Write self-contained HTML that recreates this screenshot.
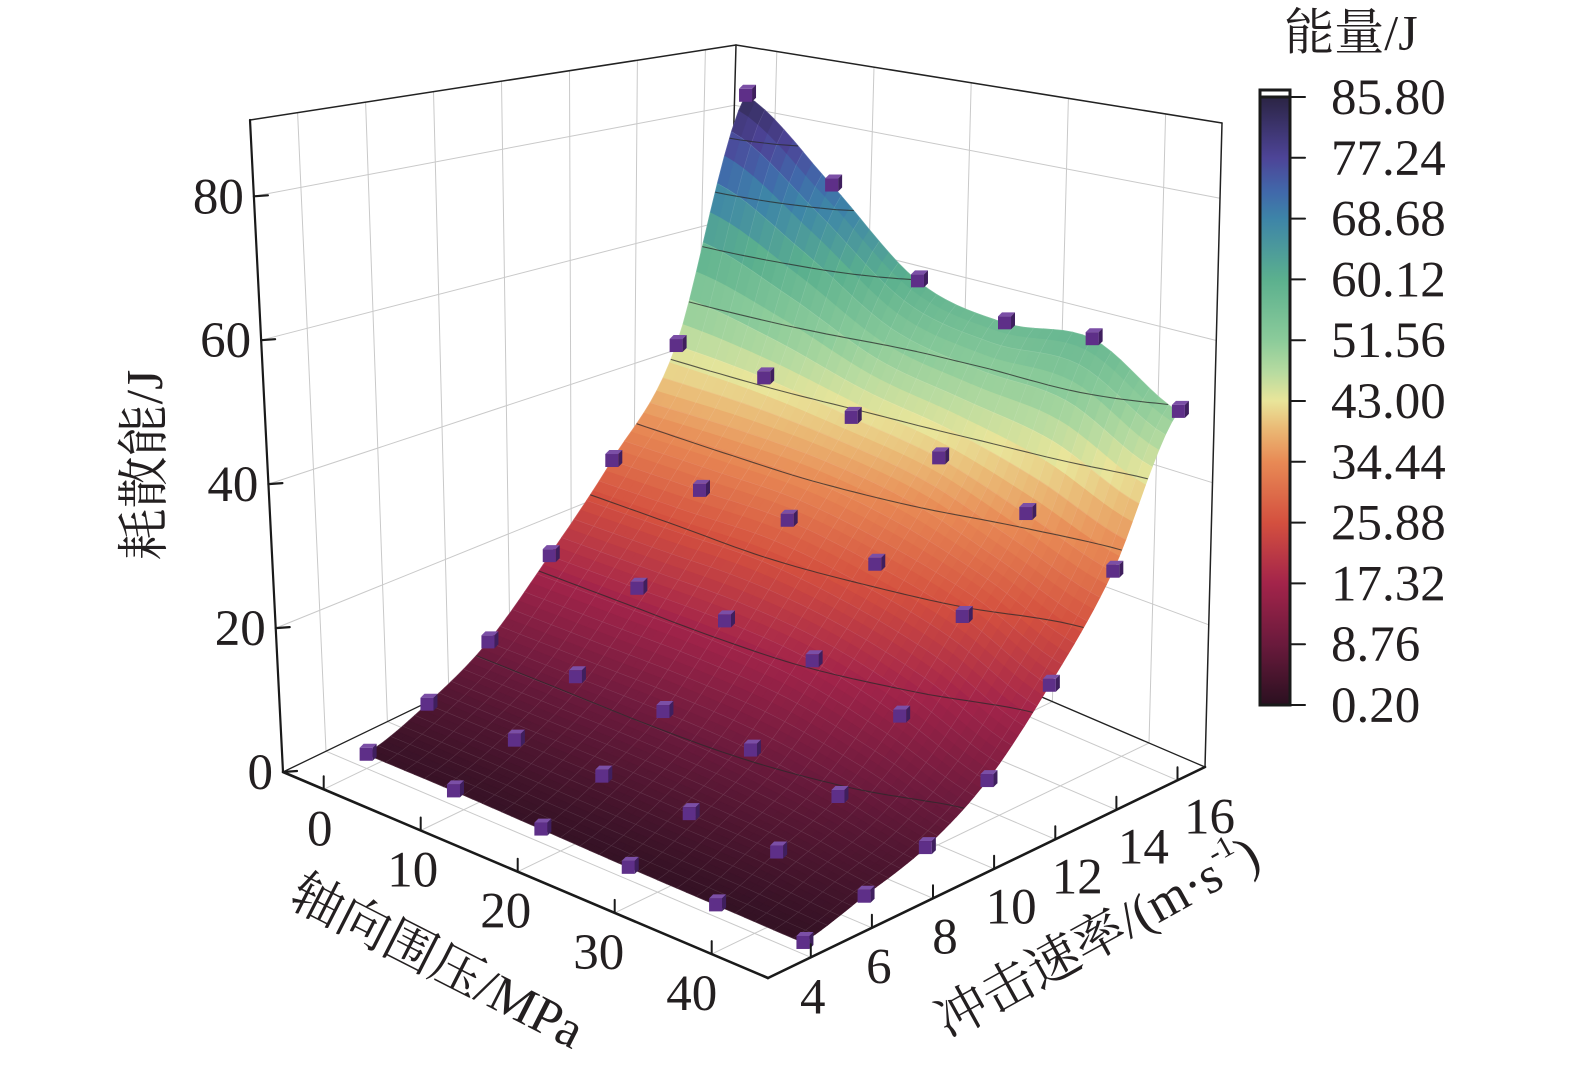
<!DOCTYPE html>
<html><head><meta charset="utf-8">
<style>
html,body{margin:0;padding:0;background:#fff;}
svg{display:block;}
text{font-family:"Liberation Serif","Noto Serif CJK SC","Noto Sans CJK SC",serif;fill:#231f20;}
</style></head>
<body>
<svg id="chart" xmlns="http://www.w3.org/2000/svg" width="1575" height="1083" viewBox="0 0 1575 1083">
<rect x="0" y="0" width="1575" height="1083" fill="#ffffff"/>
<g id="walls"></g>
<g id="boxBack"></g>
<g id="surface"></g>
<g id="contours"></g>
<g id="markers"></g>
<g id="axes"></g>
<g id="colorbar"></g>
<text x="150" y="465" font-size="52" text-anchor="middle" dominant-baseline="middle" transform="rotate(-90 150 465)">耗散能/J</text>
<text x="435" y="966" font-size="52" text-anchor="middle" dominant-baseline="middle" transform="rotate(27 435 966)">轴向围压/MPa</text>
<text x="1100" y="942" font-size="52" text-anchor="middle" dominant-baseline="middle" transform="rotate(-29 1100 942)">冲击速率/(m·s<tspan font-size="30" dy="-20">-1</tspan><tspan dy="20">)</tspan></text>
<text x="1351" y="38" font-size="50" text-anchor="middle" dominant-baseline="middle">能量/J</text>
</svg>
<script>
// ---- data ----
const axialValues = [0, 9, 18, 27, 36, 45];
const velocityValues = [4, 6, 8, 10, 12, 14, 16];
const energyA0 = [2.0, 5.0, 10.0, 19.0, 30.0, 45.0, 84.0];
const energyA9 = [2.0, 5.0, 10.0, 19.0, 30.0, 44.0, 72.0];
const energyA18 = [1.8, 5.0, 10.0, 19.0, 30.0, 42.0, 60.0];
const energyA27 = [1.6, 4.8, 9.5, 18.0, 28.0, 40.0, 57.0];
const energyA36 = [1.5, 4.5, 8.0, 15.0, 25.0, 36.0, 58.0];
const energyA45 = [1.4, 3.5, 6.0, 11.0, 20.0, 32.0, 51.0];
const energyRows = [energyA0, energyA9, energyA18, energyA27, energyA36, energyA45];
const zTicks = [0, 20, 40, 60, 80];
const axialTicks = [0, 10, 20, 30, 40];
const velocityTicks = [4, 6, 8, 10, 12, 14, 16];
const colorbarLabels = ["0.20","8.76","17.32","25.88","34.44","43.00","51.56","60.12","68.68","77.24","85.80"];
const contourLevels = [8.76, 17.32, 25.88, 34.44, 43.0, 51.56, 60.12, 68.68, 77.24];

// ---- colormap ----
const cmapVals = [0.2, 8.76, 17.32, 25.88, 34.44, 39, 43, 47, 51.56, 60.12, 68.68, 72.5, 77.24, 85.8];
const cmapCols = ["#2a1020","#6a1a3c","#a3244a","#d4503f","#e88a55","#eab874","#e9e59a","#b7dba0","#8bcb9a","#5bb08e","#3d84a8","#4168aa","#4d4497","#2b2444"];
function hex(c){return [parseInt(c.substr(1,2),16),parseInt(c.substr(3,2),16),parseInt(c.substr(5,2),16)];}
function cmap(z){
  if(z<=cmapVals[0]) return cmapCols[0];
  for(let i=1;i<cmapVals.length;i++){
    if(z<=cmapVals[i]){
      const f=(z-cmapVals[i-1])/(cmapVals[i]-cmapVals[i-1]);
      const a=hex(cmapCols[i-1]),b=hex(cmapCols[i]);
      return "rgb("+a.map((x,k)=>Math.round(x+(b[k]-x)*f)).join(",")+")";
    }
  }
  return cmapCols[cmapCols.length-1];
}

// ---- projection (trilinear box) ----
const amin=-4.2, amax=45.8, vmin=2.6, vmax=16.9, zmax=90.6;
const F00=[283,772],F10=[768,978],F01=[722,560],F11=[1205,767];
const T00=[250,120],T10=[760,215],T01=[736,45],T11=[1222,123];
function bil(P00,P10,P01,P11,s,r){
  return [P00[0]*(1-s)*(1-r)+P10[0]*s*(1-r)+P01[0]*(1-s)*r+P11[0]*s*r,
          P00[1]*(1-s)*(1-r)+P10[1]*s*(1-r)+P01[1]*(1-s)*r+P11[1]*s*r];
}
function proj(a,v,z){
  const s=(a-amin)/(amax-amin), r=(v-vmin)/(vmax-vmin), t=z/zmax;
  const f=bil(F00,F10,F01,F11,s,r), p=bil(T00,T10,T01,T11,s,r);
  return [f[0]*(1-t)+p[0]*t, f[1]*(1-t)+p[1]*t];
}
const NS="http://www.w3.org/2000/svg";
function mk(tag,attrs,parent){const e=document.createElementNS(NS,tag);for(const k in attrs)e.setAttribute(k,attrs[k]);parent.appendChild(e);return e;}
function line(p,q,stroke,w,parent,name){
  const e=mk("line",{x1:p[0].toFixed(1),y1:p[1].toFixed(1),x2:q[0].toFixed(1),y2:q[1].toFixed(1),stroke:stroke,"stroke-width":w,"stroke-linecap":"round"},parent);
  
  
  return e;
}

// ---- walls grid ----
const walls=document.getElementById("walls");
const gc="#c9c9c9";
velocityTicks.forEach(v=>{
  line(proj(amin,v,0),proj(amin,v,zmax),gc,1,walls,"left-wall-gridline");
  line(proj(amin,v,0),proj(amax,v,0),gc,1,walls,"floor-gridline");
});
axialTicks.forEach(a=>{
  line(proj(a,vmax,0),proj(a,vmax,zmax),gc,1,walls,"back-wall-gridline");
  line(proj(a,vmin,0),proj(a,vmax,0),gc,1,walls,"floor-gridline");
});
zTicks.forEach(z=>{
  line(proj(amin,vmin,z),proj(amin,vmax,z),gc,1,walls,"left-wall-gridline");
  line(proj(amin,vmax,z),proj(amax,vmax,z),gc,1,walls,"back-wall-gridline");
});
const bb=document.getElementById("boxBack");
line(F00,F01,"#222",1.3,bb,"floor-back-edge");
line(F01,F11,"#222",1.3,bb,"floor-back-edge");
line(F01,T01,"#222",1.5,bb,"back-vertical-edge");
line(T00,T01,"#222",1.5,bb,"top-left-edge");
line(T01,T11,"#222",1.5,bb,"top-right-edge");
line(F11,T11,"#222",1.5,bb,"right-vertical-edge");

// ---- surface interpolation ----
function cr(p0,p1,p2,p3,t){return 0.5*((2*p1)+(-p0+p2)*t+(2*p0-5*p1+4*p2-p3)*t*t+(-p0+3*p1-3*p2+p3)*t*t*t);}
function interp1(arr,t){
  const n=arr.length;let i=Math.floor(t);if(i>=n-1)i=n-2;if(i<0)i=0;const f=t-i;
  const g=k=>arr[Math.max(0,Math.min(n-1,k))];
  return cr(g(i-1),g(i),g(i+1),g(i+2),f);
}
function zAt(ta,tv){
  const col=energyRows.map(row=>interp1(row,tv));
  return interp1(col,ta);
}
const NA=45,NV=60;
const a0=axialValues[0],a1=axialValues[axialValues.length-1];
const v0=velocityValues[0],v1=velocityValues[velocityValues.length-1];
const G=[];
for(let i=0;i<=NA;i++){G[i]=[];for(let j=0;j<=NV;j++){
  const ta=i/NA*(axialValues.length-1), tv=j/NV*(velocityValues.length-1);
  const a=a0+(a1-a0)*i/NA, v=v0+(v1-v0)*j/NV;
  G[i][j]={a:a,v:v,z:zAt(ta,tv)};
}}
const surf=document.getElementById("surface");
const quads=[];
for(let i=0;i<NA;i++)for(let j=0;j<NV;j++){
  const c=[G[i][j],G[i+1][j],G[i+1][j+1],G[i][j+1]];
  const s=(c[0].a+c[2].a)/2, r=(c[0].v+c[2].v)/2;
  quads.push({c:c,d:(s-amin)/(amax-amin)-(r-vmin)/(vmax-vmin)});
}
quads.sort((p,q)=>p.d-q.d);
quads.forEach(q=>{
  const pts=q.c.map(p=>proj(p.a,p.v,p.z).map(x=>x.toFixed(1)).join(",")).join(" ");
  const zz=(q.c[0].z+q.c[1].z+q.c[2].z+q.c[3].z)/4;
  const col=cmap(zz);
  const el=mk("polygon",{points:pts,fill:col,stroke:col,"stroke-width":0.7},surf);
  
  
});
// faint mesh
let md="";
for(let i=0;i<=NA;i+=2){md+="M";for(let j=0;j<=NV;j++){const p=proj(G[i][j].a,G[i][j].v,G[i][j].z);md+=(j?"L":"")+p[0].toFixed(1)+","+p[1].toFixed(1);}}
for(let j=0;j<=NV;j+=2){md+="M";for(let i=0;i<=NA;i++){const p=proj(G[i][j].a,G[i][j].v,G[i][j].z);md+=(i?"L":"")+p[0].toFixed(1)+","+p[1].toFixed(1);}}
const mesh=mk("path",{d:md,fill:"none",stroke:"#ffffff","stroke-opacity":0.13,"stroke-width":0.6},surf);



// ---- contours ----
const cg=document.getElementById("contours");
let cd="";
contourLevels.forEach(L=>{
  for(let i=0;i<NA;i++)for(let j=0;j<NV;j++){
    const c=[G[i][j],G[i+1][j],G[i+1][j+1],G[i][j+1]];
    const pts=[];
    for(let k=0;k<4;k++){
      const p=c[k],q=c[(k+1)%4];
      if((p.z-L)*(q.z-L)<0){const f=(L-p.z)/(q.z-p.z);pts.push(proj(p.a+(q.a-p.a)*f,p.v+(q.v-p.v)*f,L));}
    }
    for(let k=0;k+1<pts.length;k+=2){cd+="M"+pts[k][0].toFixed(1)+","+pts[k][1].toFixed(1)+"L"+pts[k+1][0].toFixed(1)+","+pts[k+1][1].toFixed(1);}
  }
});
const cp=mk("path",{d:cd,fill:"none",stroke:"#2a2a2a","stroke-opacity":0.75,"stroke-width":1.1},cg);



// ---- markers ----
const mg=document.getElementById("markers");
axialValues.forEach((a,i)=>{velocityValues.forEach((v,j)=>{
  const p=proj(a,v,energyRows[i][j]);const x=p[0],y=p[1],h=6.5,o=4;
  const g=mk("g",{},mg);
  
  
  mk("polygon",{points:`${x-h},${y-h} ${x-h+o},${y-h-o} ${x+h+o},${y-h-o} ${x+h},${y-h}`,fill:"#7b4fa6"},g);
  mk("polygon",{points:`${x+h},${y-h} ${x+h+o},${y-h-o} ${x+h+o},${y+h-o} ${x+h},${y+h}`,fill:"#3f1f5e"},g);
  mk("rect",{x:x-h,y:y-h,width:2*h,height:2*h,fill:"#5e2f88"},g);
});});

// ---- axes ----
const ax=document.getElementById("axes");
line(F00,T00,"#1a1a1a",2.2,ax,"z-axis-line");
line(F00,F10,"#1a1a1a",2.6,ax,"axial-axis-line");
line(F10,F11,"#1a1a1a",2.6,ax,"velocity-axis-line");
zTicks.forEach(z=>{
  const p=proj(amin,vmin,z);
  line(p,[p[0]+14,p[1]-1],"#1a1a1a",2.2,ax,"z-tick");
  const t=mk("text",{x:(p[0]-10).toFixed(1),y:(p[1]+17).toFixed(1),"font-size":51,"text-anchor":"end"},ax);
  t.textContent=String(z);
  
  
});
axialTicks.forEach(a=>{
  const p=proj(a,vmin,0);
  line(p,[p[0],p[1]-13],"#1a1a1a",2,ax,"axial-tick");
  const t=mk("text",{x:(p[0]-4-a*0.4).toFixed(1),y:(p[1]+56).toFixed(1),"font-size":51,"text-anchor":"middle"},ax);
  t.textContent=String(a);
  
  
});
velocityTicks.forEach(v=>{
  const p=proj(amax,v,0);
  line(p,[p[0],p[1]-13],"#1a1a1a",2,ax,"velocity-tick");
  const t=mk("text",{x:(p[0]+2+(v-4)*2.5).toFixed(1),y:(p[1]+56-(v-4)*0.25).toFixed(1),"font-size":51,"text-anchor":"middle"},ax);
  t.textContent=String(v);
  
  
});

// ---- colorbar ----
const cb=document.getElementById("colorbar");
const defs=mk("defs",{},cb);
const lg=mk("linearGradient",{id:"cbg",x1:0,y1:1,x2:0,y2:0},defs);
cmapVals.forEach((v,k)=>{mk("stop",{offset:((v-0.2)/85.6).toFixed(4),"stop-color":cmapCols[k]},lg);});
const yTop=97,yBot=705;
const cbr=mk("rect",{x:1260,y:yTop,width:30,height:yBot-yTop,fill:"url(#cbg)",stroke:"#1a1a1a","stroke-width":3},cb);


const cbt=mk("rect",{x:1260,y:90,width:30,height:7,fill:"#ffffff",stroke:"#1a1a1a","stroke-width":3},cb);


colorbarLabels.forEach((lab,k)=>{
  const y=yBot-(parseFloat(lab)-0.2)/85.6*(yBot-yTop);
  line([1290,y],[1305,y],"#1a1a1a",2,cb,"colorbar-tick");
  const t=mk("text",{x:1331,y:(y+17).toFixed(1),"font-size":51},cb);
  t.textContent=lab;
  
  
});
</script>
</body></html>
